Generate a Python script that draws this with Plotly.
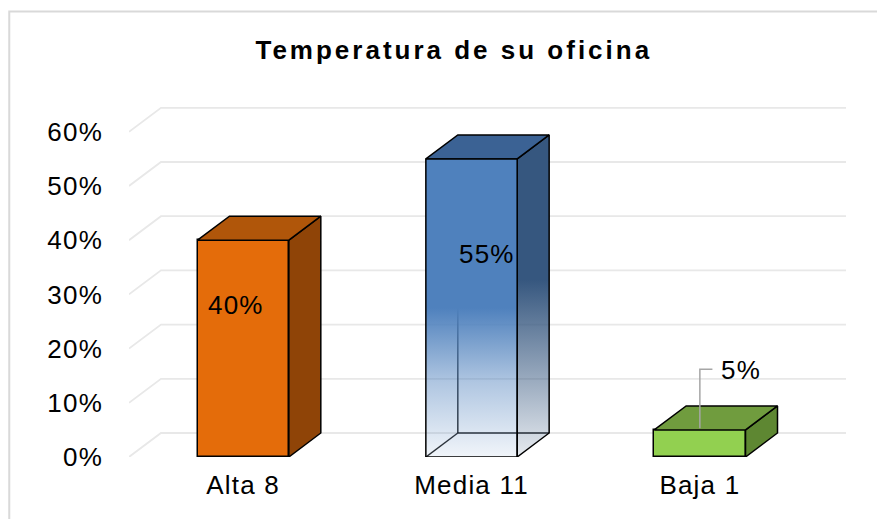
import plotly.graph_objects as go

# ---- data ----
categories = ["Alta 8", "Media 11", "Baja 1"]
values = [40, 55, 5]            # percent
value_labels = ["40%", "55%", "5%"]
y_ticks = [0, 10, 20, 30, 40, 50, 60]
y_tick_labels = ["0%", "10%", "20%", "30%", "40%", "50%", "60%"]
title_text = "Temperatura de su oficina"

# ---- styling / geometry ----
front_cols = ["#E46C0A", "#4F81BD", "#92D050"]
top_cols = ["#B0560A", "#3B6294", "#709C3E"]
side_cols = ["#8F4407", "#36577F", "#5E8732"]
W = 0.4          # bar width (category units)
DX = 0.14        # depth offset in x units
DY = 4.43        # depth offset in y units
FONT = "Liberation Sans, Arial, sans-serif"
LS = "letter-spacing:1.2px"

xs = list(range(len(categories)))
fig = go.Figure()

# front faces as bars
bar_colors = [c if i != 1 else "rgba(0,0,0,0)" for i, c in enumerate(front_cols)]
bar_lw = [1.5 if i != 1 else 0 for i in range(len(categories))]
fig.add_trace(go.Bar(
    x=xs, y=values, width=W,
    marker=dict(color=bar_colors, line=dict(color="black", width=bar_lw)),
    hoverinfo="skip", showlegend=False))

def poly(px, py, **kw):
    fig.add_trace(go.Scatter(x=px + [px[0]], y=py + [py[0]], mode="lines",
                             fill="toself", hoverinfo="skip", showlegend=False, **kw))

for i, (x, v) in enumerate(zip(xs, values)):
    l, r = x - W / 2, x + W / 2
    if i == 1:
        # inner (see-through) back edges
        fig.add_trace(go.Scatter(
            x=[l, l + DX, None, l + DX, r + DX, None, l + DX, l + DX],
            y=[0, DY, None, DY, DY, None, DY, v * 0.5],
            mode="lines", line=dict(color="rgba(0,0,0,0.85)", width=1.5),
            hoverinfo="skip", showlegend=False))
        poly([r, r + DX, r + DX, r], [0, DY, v + DY, v],
             line=dict(color="black", width=1.5),
             fillgradient=dict(type="vertical", colorscale=[
                 [0, "rgba(54,87,127,0.12)"], [0.3, "rgba(54,87,127,0.6)"],
                 [0.55, "rgba(54,87,127,1)"], [1, "rgba(54,87,127,1)"]]))
    else:
        poly([r, r + DX, r + DX, r], [0, DY, v + DY, v],
             line=dict(color="black", width=1.5), fillcolor=side_cols[i])
    poly([l, l + DX, r + DX, r], [v, v + DY, v + DY, v],
         line=dict(color="black", width=1.5), fillcolor=top_cols[i])
    if i == 1:
        poly([l, l, r, r], [0, v, v, 0],
             line=dict(color="black", width=1.5),
             fillgradient=dict(type="vertical", colorscale=[
                 [0, "rgba(79,129,189,0.08)"], [0.25, "rgba(79,129,189,0.45)"],
                 [0.5, "rgba(79,129,189,1)"], [1, "rgba(79,129,189,1)"]]))

# leader line for the small bar label
bx, bv = xs[2], values[2]
fig.add_trace(go.Scatter(x=[bx, bx, bx + 0.055], y=[bv + 0.3, 16.2, 16.2], mode="lines",
                         line=dict(color="#A6A6A6", width=1.5),
                         hoverinfo="skip", showlegend=False))

# data labels
label_pos = [(-0.03, 0.70), (0.066, 0.68), (0.18, 3.2)]
for (x, v, t, (dx, fy)) in zip(xs, values, value_labels, label_pos):
    fig.add_annotation(x=x + dx, y=v * fy, text=f'<span style="{LS}">{t}</span>',
                       showarrow=False, font=dict(family=FONT, size=26, color="black"))

# back-wall gridlines
shapes = []
for v in y_ticks:
    shapes.append(dict(type="path", xref="x", yref="y", layer="below",
                       path=f"M {-0.5},{v} L {-0.5 + DX},{v + DY} L {2.5 + DX},{v + DY}",
                       line=dict(color="rgb(232,232,232)", width=1.8)))
# chart border
shapes.append(dict(type="rect", xref="paper", yref="paper", layer="below",
                   x0=-0.167, x1=1.2, y0=-0.3, y1=1.248,
                   line=dict(color="rgb(217,217,217)", width=2)))

# page body has an 8px margin: figure is 877x511 placed at (8, 8)
fig.update_layout(
    width=877, height=511,
    margin=dict(l=121, r=39, t=92, b=62),
    paper_bgcolor="white", plot_bgcolor="white",
    shapes=shapes,
    title=dict(text=f'<span style="letter-spacing:3px">{title_text}</span>',
               x=0.453, xref="paper", xanchor="center",
               y=1 - 42 / 511, yref="container", yanchor="middle",
               font=dict(family=FONT, size=26, color="black", weight="bold")),
    xaxis=dict(range=[-0.5, 2.5 + DX], tickvals=xs,
               ticktext=[f'<span style="{LS}">{c}</span>' for c in categories],
               showgrid=False, zeroline=False, showline=False, ticks="",
               ticklabelstandoff=10,
               tickfont=dict(family=FONT, size=26, color="black")),
    yaxis=dict(range=[0, 357 / 5.42], tickvals=y_ticks,
               ticktext=[f'<span style="{LS}">{t}</span>' for t in y_tick_labels],
               showgrid=False, zeroline=False, showline=False, ticks="",
               ticklabelstandoff=25,
               tickfont=dict(family=FONT, size=26, color="black")),
    bargap=0,
)

fig.write_html("out.html")
